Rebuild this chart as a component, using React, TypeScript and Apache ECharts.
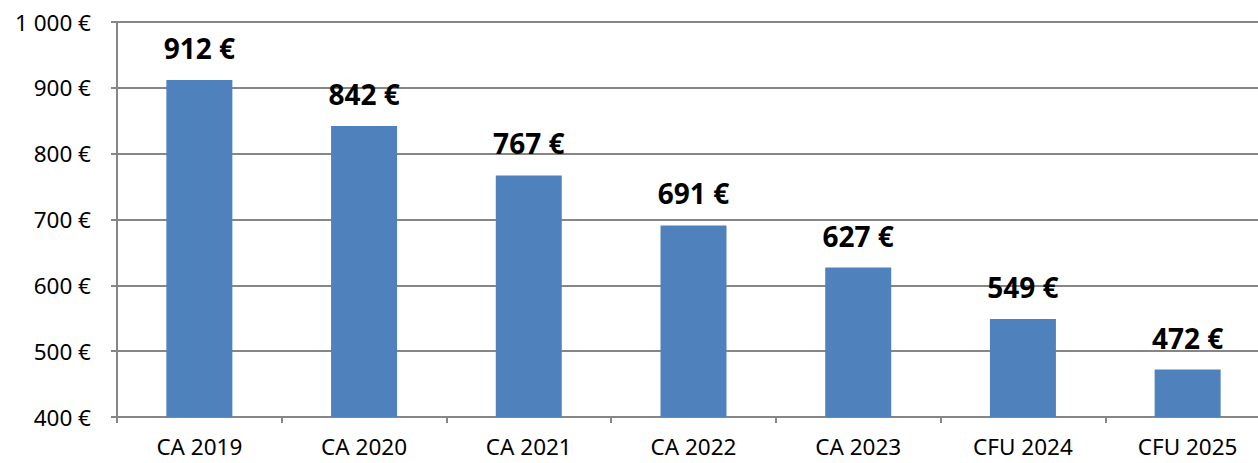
import React, { useEffect, useRef } from "react";
import * as echarts from "echarts";

const categories = ["CA 2019", "CA 2020", "CA 2021", "CA 2022", "CA 2023", "CFU 2024", "CFU 2025"];
const values = [912, 842, 767, 691, 627, 549, 472];
const yMin = 400;
const yMax = 1000;
const yInterval = 100;

const fmt = (v: number) => {
  const s = String(Math.round(v)).replace(/\B(?=(\d{3})+(?!\d))/g, " ");
  return s + " €";
};

export default function App() {
  const ref = useRef<HTMLDivElement>(null);
  useEffect(() => {
    const chart = echarts.init(ref.current!, null, { renderer: "svg" });
    chart.setOption({
      animation: false,
      textStyle: { fontFamily: "Noto Sans" },
      grid: { left: 117, right: 0, top: 22, bottom: 46, containLabel: false },
      xAxis: {
        type: "category",
        data: categories,
        axisLine: { lineStyle: { color: "#868686", width: 2 } },
        axisTick: { show: true, alignWithLabel: false, length: 6, lineStyle: { color: "#868686", width: 2 } },
        axisLabel: { color: "#000", fontSize: 22.5, margin: 18, fontFamily: "Noto Sans" },
      },
      yAxis: {
        type: "value",
        min: yMin,
        max: yMax,
        interval: yInterval,
        axisLine: { show: true, lineStyle: { color: "#868686", width: 2 } },
        axisTick: { show: true, length: 6, lineStyle: { color: "#868686", width: 2 } },
        axisLabel: { color: "#000", fontSize: 22.5, margin: 26, formatter: fmt, fontFamily: "Noto Sans" },
        splitLine: { lineStyle: { color: "#868686", width: 2 } },
      },
      series: [
        {
          type: "bar",
          data: values,
          barWidth: 66,
          itemStyle: { color: "#4F81BD" },
          label: {
            show: true,
            position: "top",
            distance: 18,
            formatter: (p: any) => fmt(p.value),
            color: "#000",
            fontSize: 28,
            fontWeight: "bold",
            fontFamily: "Noto Sans",
          },
        },
      ],
    });
    return () => chart.dispose();
  }, []);
  return (
    <div style={{ position: "fixed", left: 0, top: 0, width: 1258, height: 463, overflow: "hidden", background: "#fff" }}>
      <div ref={ref} style={{ width: 1270, height: 463 }} />
    </div>
  );
}
